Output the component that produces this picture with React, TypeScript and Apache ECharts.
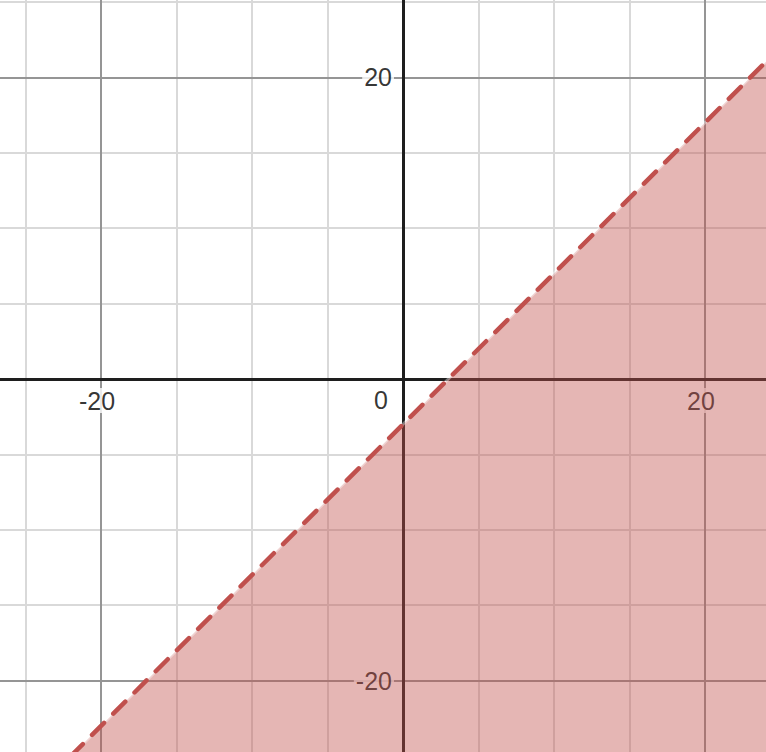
import React, { useEffect, useRef } from "react";
import * as echarts from "echarts";

// View window (graph units)
const X_MIN = -26.69;
const X_MAX = 24.04;
const Y_MIN = -24.73;
const Y_MAX = 25.13;

// Grid lines
const minorGridX = [-25, -15, -10, -5, 5, 10, 15];
const majorGridX = [-20, 20];
const minorGridY = [-15, -10, -5, 5, 10, 15, 25];
const majorGridY = [-20, 20];

// Tick labels
const xTickLabels = [-20, 20];
const yTickLabels = [-20, 20];

// Boundary line y = x - 3 (two points on it), region below is shaded
const boundaryPoints: [number, number][] = [
  [-22, -25],
  [25, 22],
];

const RED = "#c0504d";
const FONT = "'Liberation Sans', Arial, sans-serif";

export default function App() {
  const ref = useRef<HTMLDivElement>(null);

  useEffect(() => {
    if (!ref.current) return;
    const chart = echarts.init(ref.current, undefined, { renderer: "svg" });

    const minorStyle = { color: "#d9d9d9", width: 2, type: "solid" as const };
    const majorStyle = { color: "#959595", width: 2, type: "solid" as const };
    const axisStyle = { color: "#1e1e1e", width: 3, type: "solid" as const };

    const gridLines: any[] = [
      ...minorGridX.map((v) => ({ xAxis: v, lineStyle: minorStyle })),
      ...minorGridY.map((v) => ({ yAxis: v, lineStyle: minorStyle })),
      ...majorGridX.map((v) => ({ xAxis: v, lineStyle: majorStyle })),
      ...majorGridY.map((v) => ({ yAxis: v, lineStyle: majorStyle })),
      { xAxis: 0, lineStyle: axisStyle },
      { yAxis: 0, lineStyle: axisStyle },
    ];

    const labelBase = {
      show: true,
      fontFamily: FONT,
      fontSize: 25,
      color: "#000",
      backgroundColor: "#fff",
      padding: [0, 2, 0, 2],
    };

    chart.setOption({
      animation: false,
      grid: { left: 0, right: 0, top: 0, bottom: 0, containLabel: false },
      xAxis: {
        type: "value",
        min: X_MIN,
        max: X_MAX,
        axisLine: { show: false },
        axisTick: { show: false },
        axisLabel: { show: false },
        splitLine: { show: false },
      },
      yAxis: {
        type: "value",
        min: Y_MIN,
        max: Y_MAX,
        axisLine: { show: false },
        axisTick: { show: false },
        axisLabel: { show: false },
        splitLine: { show: false },
      },
      series: [
        {
          type: "line",
          z: 1,
          data: [],
          silent: true,
          markLine: {
            z: 1,
            silent: true,
            symbol: ["none", "none"],
            label: { show: false },
            emphasis: { disabled: true },
            data: gridLines,
          },
        },
        {
          type: "scatter",
          z: 2,
          symbolSize: 0,
          silent: true,
          data: xTickLabels.map((v) => [v, 0]),
          label: {
            ...labelBase,
            position: "bottom",
            distance: 9,
            offset: [-4, 0],
            formatter: (p: any) => String(p.value[0]),
          },
        },
        {
          type: "scatter",
          z: 2,
          symbolSize: 0,
          silent: true,
          data: yTickLabels.map((v) => [0, v]),
          label: {
            ...labelBase,
            position: "left",
            distance: 9,
            formatter: (p: any) => String(p.value[1]),
          },
        },
        {
          type: "scatter",
          z: 2,
          symbolSize: 0,
          silent: true,
          data: [[0, 0]],
          label: {
            ...labelBase,
            position: "left",
            distance: 13,
            offset: [0, 21],
            formatter: () => "0",
          },
        },
        {
          type: "line",
          z: 3,
          silent: true,
          symbol: "none",
          data: boundaryPoints,
          lineStyle: { width: 0, opacity: 0 },
          areaStyle: { origin: "start", color: "rgba(192,80,77,0.42)", opacity: 1 },
        },
        {
          type: "line",
          z: 4,
          silent: true,
          symbol: "none",
          data: boundaryPoints,
          lineStyle: { width: 3, color: "rgba(255,255,255,0.4)" },
        },
        {
          type: "line",
          z: 5,
          silent: true,
          symbol: "none",
          data: boundaryPoints,
          lineStyle: { width: 4.5, color: RED, type: [17, 13], cap: "round" },
        },
      ],
    });

    return () => chart.dispose();
  }, []);

  return (
    <div
      ref={ref}
      style={{ position: "absolute", left: 0, top: 0, width: 766, height: 752, background: "#fff" }}
    />
  );
}
